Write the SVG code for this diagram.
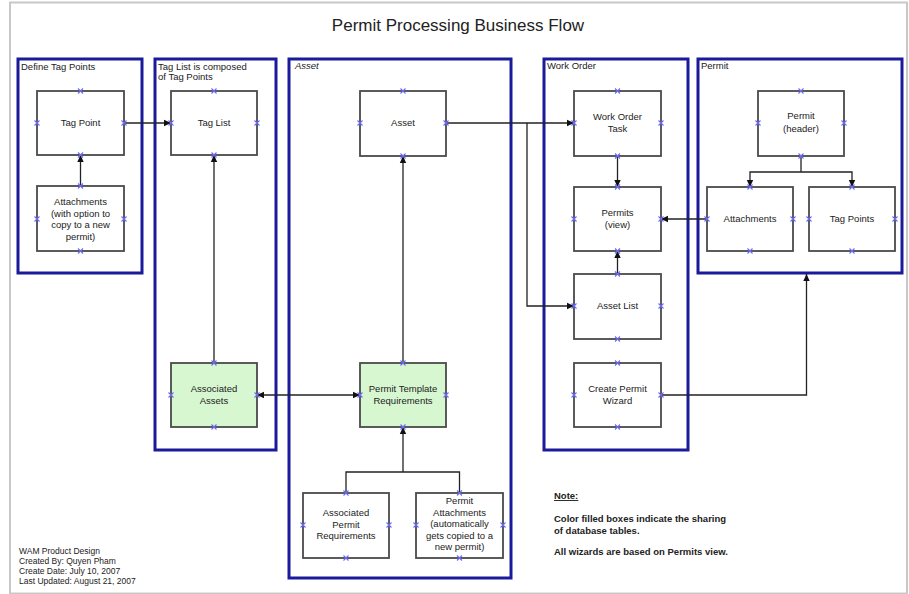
<svg xmlns="http://www.w3.org/2000/svg" xmlns:xlink="http://www.w3.org/1999/xlink" width="909" height="594" viewBox="0 0 909 594">
<style>
text{font-family:"Liberation Sans",Arial,sans-serif;fill:#222}
.title{font-size:17px;text-anchor:middle}
.lbl{font-size:9.5px}
.bt{font-size:9.5px;text-anchor:middle}
.cont{fill:none;stroke:#1a1a9a;stroke-width:3}
.box{fill:#fff;stroke:#4a4a4a;stroke-width:1.8}
.green{fill:#d6f7d0}
.conn{fill:none;stroke:#222;stroke-width:1.3}
.cp{fill:none;stroke:#6a6aff;stroke-width:1.1}
.note{font-size:9.5px;font-weight:bold}
.foot{font-size:8.5px}
</style>
<defs>
<marker id="ar" markerWidth="8" markerHeight="8" refX="7" refY="4" orient="auto-start-reverse" markerUnits="userSpaceOnUse">
<path d="M0,0.8 L7,4 L0,7.2 Z" fill="#111"/>
</marker>
<path id="x" class="cp" d="M-2.5,-2.5 L2.5,2.5 M-2.5,2.5 L2.5,-2.5"/>
</defs>
<rect x="0" y="0" width="909" height="594" fill="#fff"/>
<rect x="10" y="2.5" width="897" height="591" fill="none" stroke="#c8c8c8" stroke-width="2"/>
<text class="title" x="458" y="31">Permit Processing Business Flow</text>

<g id="containers">
<g id="c-define"><rect class="cont" x="18" y="59" width="124" height="214"/><text class="lbl" x="21" y="70">Define Tag Points</text></g>
<g id="c-taglist"><rect class="cont" x="155" y="59" width="121" height="391"/><text class="lbl" x="158" y="70">Tag List is composed</text><text class="lbl" x="158" y="80">of Tag Points</text></g>
<g id="c-asset"><rect class="cont" x="289" y="59" width="222" height="519"/><text class="lbl" x="295" y="69" font-style="italic">Asset</text></g>
<g id="c-workorder"><rect class="cont" x="544" y="59" width="144" height="391"/><text class="lbl" x="547" y="69">Work Order</text></g>
<g id="c-permit"><rect class="cont" x="698" y="59" width="204" height="214"/><text class="lbl" x="701" y="69">Permit</text></g>
</g>

<g id="connectors">
<line class="conn" x1="124" y1="123" x2="171" y2="123" marker-end="url(#ar)"/>
<line class="conn" x1="80.5" y1="186" x2="80.5" y2="155" marker-end="url(#ar)"/>
<line class="conn" x1="214" y1="363" x2="214" y2="155" marker-end="url(#ar)"/>
<line class="conn" x1="403" y1="363" x2="403" y2="156" marker-end="url(#ar)"/>
<line class="conn" x1="257" y1="395" x2="360" y2="395" marker-start="url(#ar)" marker-end="url(#ar)"/>
<line class="conn" x1="446" y1="123" x2="574" y2="123" marker-end="url(#ar)"/>
<polyline class="conn" points="527,123 527,306 574,306" marker-end="url(#ar)"/>
<line class="conn" x1="617.5" y1="156" x2="617.5" y2="187" marker-end="url(#ar)"/>
<line class="conn" x1="617.5" y1="274" x2="617.5" y2="251" marker-end="url(#ar)"/>
<line class="conn" x1="707" y1="219" x2="661" y2="219" marker-end="url(#ar)"/>
<line class="conn" x1="801" y1="156" x2="801" y2="172"/>
<polyline class="conn" points="801,172 750,172 750,187" marker-end="url(#ar)"/>
<polyline class="conn" points="801,172 852,172 852,187" marker-end="url(#ar)"/>
<polyline class="conn" points="661,395 806.5,395 806.5,274" marker-end="url(#ar)"/>
<polyline class="conn" points="346,493 346,472 459.5,472 459.5,493"/>
<line class="conn" x1="403" y1="472" x2="403" y2="427" marker-end="url(#ar)"/>
</g>

<g id="n-tagpoint"><rect class="box" x="37" y="91" width="87" height="64"/><text class="bt" x="80.5" y="126">Tag Point</text></g>
<g id="n-attach1"><rect class="box" x="37" y="186" width="87" height="65"/><text class="bt" x="80.5" y="205">Attachments</text><text class="bt" x="80.5" y="216.5">(with option to</text><text class="bt" x="80.5" y="228">copy to a new</text><text class="bt" x="80.5" y="239.5">permit)</text></g>
<g id="n-taglist"><rect class="box" x="171" y="91" width="86" height="64"/><text class="bt" x="214" y="126">Tag List</text></g>
<g id="n-assocassets"><rect class="box green" x="171" y="363" width="86" height="64"/><text class="bt" x="214" y="392">Associated</text><text class="bt" x="214" y="404">Assets</text></g>
<g id="n-asset"><rect class="box" x="360" y="91" width="86" height="65"/><text class="bt" x="403" y="126">Asset</text></g>
<g id="n-ptr"><rect class="box green" x="360" y="363" width="86" height="64"/><text class="bt" x="403" y="392">Permit Template</text><text class="bt" x="403" y="404">Requirements</text></g>
<g id="n-apr"><rect class="box" x="303" y="493" width="86" height="65"/><text class="bt" x="346" y="516">Associated</text><text class="bt" x="346" y="527.5">Permit</text><text class="bt" x="346" y="539">Requirements</text></g>
<g id="n-pattach"><rect class="box" x="416" y="493" width="87" height="65"/><text class="bt" x="459.5" y="504">Permit</text><text class="bt" x="459.5" y="515.5">Attachments</text><text class="bt" x="459.5" y="527">(automatically</text><text class="bt" x="459.5" y="538.5">gets copied to a</text><text class="bt" x="459.5" y="550">new permit)</text></g>
<g id="n-wot"><rect class="box" x="574" y="91" width="87" height="65"/><text class="bt" x="617.5" y="120">Work Order</text><text class="bt" x="617.5" y="131.5">Task</text></g>
<g id="n-permitsview"><rect class="box" x="574" y="187" width="87" height="64"/><text class="bt" x="617.5" y="216">Permits</text><text class="bt" x="617.5" y="228">(view)</text></g>
<g id="n-assetlist"><rect class="box" x="574" y="274" width="87" height="65"/><text class="bt" x="617.5" y="309">Asset List</text></g>
<g id="n-wizard"><rect class="box" x="574" y="363" width="87" height="64"/><text class="bt" x="617.5" y="392">Create Permit</text><text class="bt" x="617.5" y="404">Wizard</text></g>
<g id="n-permitheader"><rect class="box" x="758" y="91" width="86" height="65"/><text class="bt" x="801" y="119">Permit</text><text class="bt" x="801" y="131.5">(header)</text></g>
<g id="n-attach2"><rect class="box" x="707" y="187" width="86" height="64"/><text class="bt" x="750" y="222">Attachments</text></g>
<g id="n-tagpoints"><rect class="box" x="809" y="187" width="86" height="64"/><text class="bt" x="852" y="222">Tag Points</text></g>

<g id="cpoints">
<use href="#x" x="80.5" y="91"/><use href="#x" x="80.5" y="155"/><use href="#x" x="37" y="123"/><use href="#x" x="124" y="123"/>
<use href="#x" x="80.5" y="186"/><use href="#x" x="80.5" y="251"/><use href="#x" x="37" y="219"/><use href="#x" x="124" y="219"/>
<use href="#x" x="214" y="91"/><use href="#x" x="214" y="155"/><use href="#x" x="171" y="123"/><use href="#x" x="257" y="123"/>
<use href="#x" x="214" y="363"/><use href="#x" x="214" y="427"/><use href="#x" x="171" y="395"/><use href="#x" x="257" y="395"/>
<use href="#x" x="403" y="91"/><use href="#x" x="403" y="156"/><use href="#x" x="360" y="123"/><use href="#x" x="446" y="123"/>
<use href="#x" x="403" y="363"/><use href="#x" x="403" y="427"/><use href="#x" x="360" y="395"/><use href="#x" x="446" y="395"/>
<use href="#x" x="346" y="493"/><use href="#x" x="346" y="558"/><use href="#x" x="303" y="525"/><use href="#x" x="389" y="525"/>
<use href="#x" x="459.5" y="493"/><use href="#x" x="459.5" y="558"/><use href="#x" x="416" y="525"/><use href="#x" x="503" y="525"/>
<use href="#x" x="617.5" y="91"/><use href="#x" x="617.5" y="156"/><use href="#x" x="574" y="123"/><use href="#x" x="661" y="123"/>
<use href="#x" x="617.5" y="187"/><use href="#x" x="617.5" y="251"/><use href="#x" x="574" y="219"/><use href="#x" x="661" y="219"/>
<use href="#x" x="617.5" y="274"/><use href="#x" x="617.5" y="339"/><use href="#x" x="574" y="306"/><use href="#x" x="661" y="306"/>
<use href="#x" x="617.5" y="363"/><use href="#x" x="617.5" y="427"/><use href="#x" x="574" y="395"/><use href="#x" x="661" y="395"/>
<use href="#x" x="801" y="91"/><use href="#x" x="801" y="156"/><use href="#x" x="758" y="123"/><use href="#x" x="844" y="123"/>
<use href="#x" x="750" y="187"/><use href="#x" x="750" y="251"/><use href="#x" x="707" y="219"/><use href="#x" x="793" y="219"/>
<use href="#x" x="852" y="187"/><use href="#x" x="852" y="251"/><use href="#x" x="809" y="219"/><use href="#x" x="895" y="219"/>
</g>

<g id="note">
<text class="note" x="554" y="499" text-decoration="underline">Note:</text>
<text class="note" x="554" y="522">Color filled boxes indicate the sharing</text>
<text class="note" x="554" y="534">of database tables.</text>
<text class="note" x="554" y="555">All wizards are based on Permits view.</text>
</g>
<g id="footer">
<text class="foot" x="19" y="554">WAM Product Design</text>
<text class="foot" x="19" y="564">Created By:  Quyen Pham</text>
<text class="foot" x="19" y="574">Create Date:  July 10, 2007</text>
<text class="foot" x="19" y="584">Last Updated: August 21, 2007</text>
</g>
</svg>
